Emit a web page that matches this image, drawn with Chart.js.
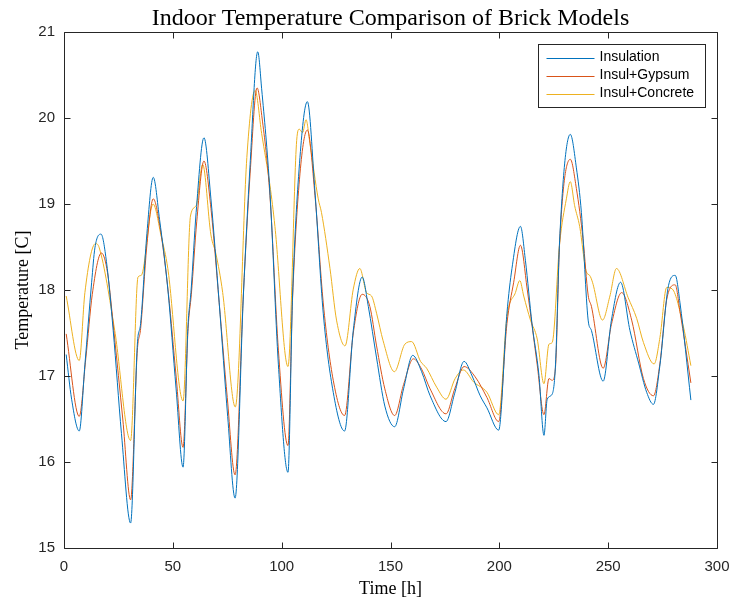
<!DOCTYPE html>
<html><head><meta charset="utf-8">
<script src="https://cdn.jsdelivr.net/npm/chart.js@4.4.1/dist/chart.umd.min.js"></script>
<style>html,body{margin:0;padding:0;background:#fff;}canvas{display:block;}</style>
</head><body>
<canvas id="c" width="730" height="601"></canvas>
<script>
const titleText = 'Indoor Temperature Comparison of Brick Models';
const xTitle = 'Time [h]';
const yTitle = 'Temperature [C]';
const seriesLabels = ['Insulation', 'Insul+Gypsum', 'Insul+Concrete'];
const seriesColors = ['#0072BD', '#D95319', '#EDB120'];
const xTicks = [0, 50, 100, 150, 200, 250, 300];
const yTicks = [15, 16, 17, 18, 19, 20, 21];

// [hour, temperature]
const insulation = [[1,17.25],[3.5,16.73],[7,16.36],[9.6,17.13],[12.7,18.09],[14.2,18.49],[17,18.65],[19.5,18.33],[22.6,17.53],[26.4,16.33],[30.6,15.29],[33.7,17.37],[35.2,17.61],[38.1,18.66],[41,19.31],[43.9,18.82],[47.7,18.01],[51.5,16.85],[54.7,15.94],[56.9,17.55],[58.4,18.0],[60.7,18.9],[64.3,19.77],[67.5,19.06],[71.3,17.85],[75.2,16.53],[78.6,15.58],[82.4,17.93],[85.5,19.46],[89,20.77],[90.8,20.34],[94.6,19.14],[98.5,17.13],[102.9,15.88],[105,17.93],[108.4,19.54],[111.8,20.19],[115.3,19.14],[119.1,17.73],[123.7,16.81],[128.9,16.36],[132.9,17.53],[137,18.15],[139.8,17.81],[143.6,17.21],[147.4,16.65],[151.9,16.41],[156,16.85],[160.2,17.24],[164.3,17.05],[168.2,16.77],[175.5,16.47],[179.5,16.8],[183.8,17.17],[187.5,17.0],[191.2,16.77],[194.3,16.63],[199.7,16.37],[203.5,17.73],[205.8,18.25],[209.7,18.74],[212,18.34],[215,17.61],[218.2,17.01],[220.5,16.31],[222,16.73],[224.3,16.79],[225.8,17.13],[227.7,18.58],[232.6,19.81],[235.4,19.42],[237.7,18.9],[240.8,17.65],[242.3,17.53],[247.7,16.94],[251.5,17.65],[255.7,18.09],[260,17.53],[264,17.15],[267.7,16.81],[270.8,16.67],[273.8,17.13],[277.7,18.05],[280.8,18.17],[283,17.85],[288,16.72]];

const insulGypsum = [[1,17.49],[7,16.53],[10,17.2],[13,17.95],[17.2,18.43],[20,18.2],[23,17.5],[27,16.5],[30.6,15.56],[33.7,17.3],[35.2,17.55],[38,18.5],[41,19.06],[44,18.75],[48,17.95],[51.5,17.0],[54.7,16.17],[57,17.55],[58.5,17.95],[61,18.8],[64.3,19.5],[67.5,18.95],[71.3,17.85],[75,16.75],[78.6,15.85],[82.4,17.95],[85.5,19.35],[88.7,20.35],[91,20.0],[94.6,19.1],[98.5,17.3],[102.9,16.19],[105,17.9],[108.4,19.35],[111.8,19.86],[115.3,19.1],[119.1,17.85],[123.7,16.95],[128.9,16.54],[132.9,17.5],[137,17.95],[140.5,17.81],[143.6,17.35],[147.4,16.85],[151.9,16.54],[156,16.9],[160.5,17.2],[164.3,17.08],[168.2,16.85],[175.5,16.56],[179.5,16.85],[183.8,17.11],[188.9,16.99],[194.3,16.75],[199.7,16.47],[203.5,17.61],[206.6,18.09],[209.7,18.52],[212.8,18.01],[217.4,17.13],[220.5,16.55],[222.8,16.97],[224.3,16.95],[225.8,17.1],[227.7,18.55],[232.6,19.52],[235.4,19.18],[238.5,18.58],[240.8,17.94],[242.3,17.81],[247.7,17.09],[251.5,17.6],[256.2,17.97],[260.8,17.65],[266.2,16.97],[270.8,16.77],[273.8,17.15],[276.9,17.89],[280.8,18.06],[283,17.75],[288,16.92]];

const insulConcrete = [[1,17.93],[7,17.18],[9.6,17.97],[14.5,18.54],[16.2,18.49],[23.3,17.53],[30.6,16.25],[34,18.15],[35.5,18.17],[40.9,19.0],[44.7,18.62],[47.7,18.25],[54.7,16.71],[58.1,18.86],[60.7,18.98],[63.7,19.46],[67.5,18.64],[69.8,18.42],[72.9,17.97],[78.7,16.64],[84,19.54],[87.8,20.32],[90.8,19.82],[94.6,19.22],[96.9,18.74],[102.9,17.11],[106.9,19.74],[108.1,19.87],[109.6,19.83],[111.2,19.98],[113,19.7],[116.8,19.06],[118.3,18.9],[122.2,18.25],[125.2,17.65],[129.1,17.35],[132.9,18.01],[135.9,18.25],[139,17.97],[141.3,17.93],[143.6,17.73],[146.6,17.41],[151.8,17.05],[156.6,17.37],[159.7,17.4],[163.8,17.17],[166.6,17.09],[171.2,16.87],[175.5,16.73],[179.7,16.97],[183.5,17.07],[188.2,16.93],[194.3,16.81],[199.7,16.55],[203.5,17.69],[207.4,17.97],[209.4,18.11],[211.2,17.93],[214.3,17.65],[217.4,17.43],[220.5,16.91],[222.8,17.37],[224.3,17.39],[227.7,18.54],[230.8,19.06],[232.6,19.26],[234.6,18.98],[236.9,18.74],[240,18.21],[241.5,18.17],[242.8,18.09],[247.4,17.65],[250.8,17.93],[253.8,18.25],[259.2,17.91],[263.1,17.67],[266.2,17.39],[271.1,17.14],[273.8,17.45],[276.9,18.03],[279.5,18.01],[284.6,17.57],[288,17.12]];

const seriesData = [insulation, insulGypsum, insulConcrete];
const axisColor = '#262626';

const datasets = seriesData.map((arr, i) => ({
  label: seriesLabels[i],
  data: arr.map(p => ({x: p[0], y: p[1]})),
  borderColor: seriesColors[i],
  backgroundColor: seriesColors[i],
  borderWidth: 1,
  pointRadius: 0,
  fill: false,
  cubicInterpolationMode: 'monotone'
}));

const framePlugin = {
  id: 'frame',
  afterLayout(chart) {
    const ca = chart.chartArea;
    if (chart.titleBlock) { chart.titleBlock.left = ca.left; chart.titleBlock.right = ca.right; }
  },
  afterDatasetsDraw(chart) {
    const {ctx, chartArea: ca, scales: {x, y}} = chart;
    ctx.save();
    ctx.strokeStyle = axisColor;
    ctx.lineWidth = 1;
    const L = Math.round(ca.left) + 0.5, R = Math.round(ca.right) + 0.5;
    const T = Math.round(ca.top) + 0.5, B = Math.round(ca.bottom) + 0.5;
    ctx.beginPath();
    ctx.rect(L, T, R - L, B - T);
    const tl = 6;
    xTicks.forEach(v => {
      const px = Math.round(x.getPixelForValue(v)) + 0.5;
      ctx.moveTo(px, B); ctx.lineTo(px, B - tl);
      ctx.moveTo(px, T); ctx.lineTo(px, T + tl);
    });
    yTicks.forEach(v => {
      const py = Math.round(y.getPixelForValue(v)) + 0.5;
      ctx.moveTo(L, py); ctx.lineTo(L + tl, py);
      ctx.moveTo(R, py); ctx.lineTo(R - tl, py);
    });
    ctx.stroke();

    // legend box inside the axes (top-right)
    const bw = 167, bh = 63;
    const bx = Math.round(ca.right - 12 - bw) + 0.5, by = Math.round(ca.top + 12) + 0.5;
    ctx.fillStyle = '#ffffff';
    ctx.fillRect(bx, by, bw, bh);
    ctx.strokeStyle = axisColor;
    ctx.strokeRect(bx, by, bw, bh);
    ctx.font = '14px "Liberation Sans", Arial, sans-serif';
    ctx.textBaseline = 'middle';
    ctx.textAlign = 'left';
    chart.data.datasets.forEach((ds, i) => {
      const cy = by + 13 + i * 18;
      ctx.strokeStyle = ds.borderColor;
      ctx.lineWidth = 1;
      ctx.beginPath();
      ctx.moveTo(bx + 8, Math.round(cy) + 0.5);
      ctx.lineTo(bx + 56, Math.round(cy) + 0.5);
      ctx.stroke();
      ctx.fillStyle = '#000000';
      ctx.fillText(ds.label, bx + 61, cy);
    });
    ctx.restore();
  }
};

new Chart(document.getElementById('c'), {
  type: 'line',
  data: {datasets},
  options: {
    responsive: false,
    animation: false,
    devicePixelRatio: 1,
    layout: {padding: {left: 0, right: 13, top: 0, bottom: 0}},
    plugins: {
      legend: {display: false},
      tooltip: {enabled: false},
      title: {
        display: true,
        text: titleText,
        color: '#000000',
        font: {family: '"Liberation Serif", "Times New Roman", serif', size: 24, weight: 'normal', lineHeight: 1.0},
        padding: {top: 7, bottom: 1}
      }
    },
    scales: {
      x: {
        type: 'linear',
        min: 0, max: 300,
        afterFit(s) { s.height = 53; s.paddingLeft = 0; s.paddingRight = 0; },
        afterBuildTicks(s) { s.ticks = xTicks.map(v => ({value: v})); },
        grid: {display: false, drawTicks: false},
        border: {display: false},
        ticks: {color: axisColor, padding: 10, maxRotation: 0, font: {family: '"Liberation Sans", Arial, sans-serif', size: 15}},
        title: {display: true, text: xTitle, color: '#000000', padding: {top: 0, bottom: 1},
          font: {family: '"Liberation Serif", "Times New Roman", serif', size: 18, lineHeight: 1.2}}
      },
      y: {
        type: 'linear',
        min: 15, max: 21,
        afterFit(s) { s.width = 64; s.paddingTop = 0; s.paddingBottom = 0; },
        afterBuildTicks(s) { s.ticks = yTicks.map(v => ({value: v})); },
        grid: {display: false, drawTicks: false},
        border: {display: false},
        ticks: {color: axisColor, padding: 9, font: {family: '"Liberation Sans", Arial, sans-serif', size: 15}},
        title: {display: true, text: yTitle, color: '#000000', padding: {top: 12, bottom: 0},
          font: {family: '"Liberation Serif", "Times New Roman", serif', size: 18, lineHeight: 1.2}}
      }
    }
  },
  plugins: [framePlugin]
});
</script>
</body></html>
